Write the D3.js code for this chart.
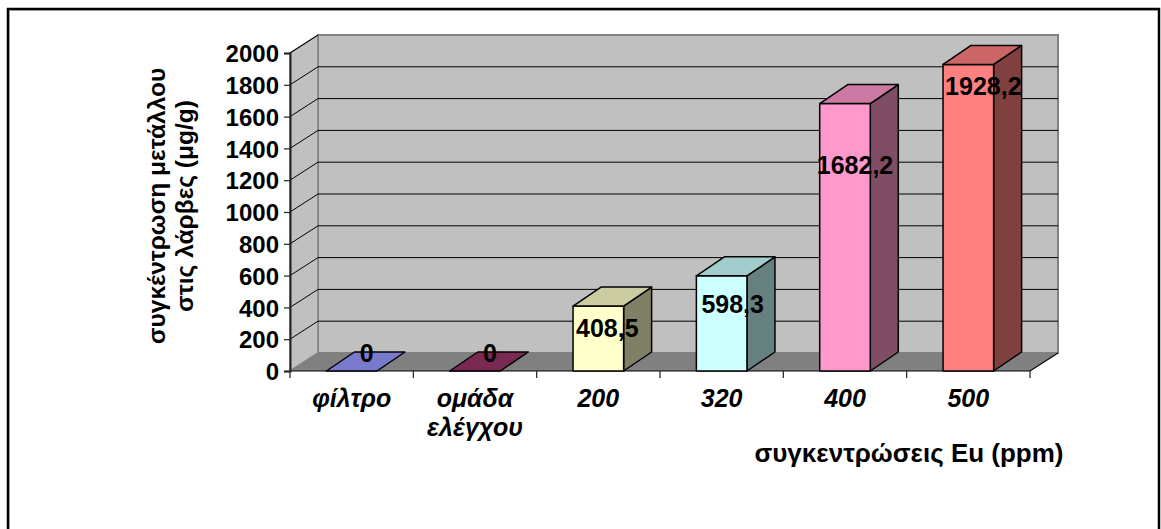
<!DOCTYPE html>
<html>
<head>
<meta charset="utf-8">
<script src="https://cdn.jsdelivr.net/npm/d3@7"></script>
<style>
  html, body { margin: 0; padding: 0; background: #fff; }
  svg { display: block; }
  text { font-family: "Liberation Sans", Arial, sans-serif; font-weight: bold; fill: #000; }
</style>
</head>
<body>
<svg id="chart" width="1161" height="529"></svg>
<script>
// Europium concentrations (categories) and metal accumulated in larvae (μg/g)
const categories = ["φίλτρο", "ομάδα ελέγχου", "200", "320", "400", "500"];
const values = [0, 0, 408.5, 598.3, 1682.2, 1928.2];
const yTicks = [0, 200, 400, 600, 800, 1000, 1200, 1400, 1600, 1800, 2000];
const frontColors = ["#9999ff", "#993366", "#ffffcc", "#ccffff", "#ff99cc", "#ff8080"];
const yTitleLines = ["συγκέντρωση μετάλλου", "στις λάρβες (μg/g)"];
const xTitle = "συγκεντρώσεις Eu (ppm)";

// Layout
const plot = { left: 290, right: 1030, top: 53, bottom: 371 };
const depth = { dx: 28, dy: -18 };      // wall / floor depth
const barDepth = { dx: 28, dy: -19 };   // column depth
// small per-label placement nudges, Excel-style label positioning
const labelNudge = [[15, -18], [15, -18], [9, 22], [11, 28], [10, 61], [15, 22]];

const svg = d3.select("#chart");

// outer chart frame
svg.append("rect")
  .attr("x", 8).attr("y", 9).attr("width", 1151).attr("height", 540)
  .attr("fill", "none").attr("stroke", "#000").attr("stroke-width", 2.5);
svg.append("polyline")
  .attr("points", "9.5,540 9.5,10.5 1157.5,10.5")
  .attr("fill", "none").attr("stroke", "#9a9a9a").attr("stroke-width", 1);

const x = d3.scaleBand().domain(categories).range([plot.left, plot.right]);
const y = d3.scaleLinear().domain([0, 2000]).range([plot.bottom, plot.top]);

const shade = (c, k) => { const r = d3.rgb(c); return d3.rgb(r.r * k, r.g * k, r.b * k).formatHex(); };
const pts = a => a.map(p => p.join(",")).join(" ");

// back wall
svg.append("polygon")
  .attr("points", pts([
    [plot.left + depth.dx, y(2000) + depth.dy],
    [plot.right + depth.dx, y(2000) + depth.dy],
    [plot.right + depth.dx, y(0) + depth.dy],
    [plot.left + depth.dx, y(0) + depth.dy]]))
  .attr("fill", "#c0c0c0").attr("stroke", "#808080").attr("stroke-width", 2);

// side wall
svg.append("polygon")
  .attr("points", pts([
    [plot.left, y(0)], [plot.left, y(2000)],
    [plot.left + depth.dx, y(2000) + depth.dy],
    [plot.left + depth.dx, y(0) + depth.dy]]))
  .attr("fill", "#c0c0c0").attr("stroke", "#808080").attr("stroke-width", 1.5);

// gridlines: slanted on side wall, horizontal on back wall
const grid = svg.append("g");
yTicks.filter(t => t > 0).forEach(t => {
  grid.append("line")
    .attr("x1", plot.left).attr("y1", y(t))
    .attr("x2", plot.left + depth.dx).attr("y2", y(t) + depth.dy)
    .attr("stroke", "#000").attr("stroke-width", 1);
  if (t < 2000) {
    grid.append("line")
      .attr("x1", plot.left + depth.dx).attr("y1", y(t) + depth.dy)
      .attr("x2", plot.right + depth.dx).attr("y2", y(t) + depth.dy)
      .attr("stroke", "#000").attr("stroke-width", 1);
  }
});

// floor
svg.append("polygon")
  .attr("points", pts([
    [plot.left, y(0)], [plot.right, y(0)],
    [plot.right + depth.dx, y(0) + depth.dy],
    [plot.left + depth.dx, y(0) + depth.dy]]))
  .attr("fill", "#808080").attr("stroke", "none");
svg.append("polyline")
  .attr("points", pts([[plot.left, y(0)], [plot.right, y(0)], [plot.right + depth.dx, y(0) + depth.dy]]))
  .attr("fill", "none").attr("stroke", "#000").attr("stroke-width", 1.2);

// value axis
const yAxis = svg.append("g")
  .attr("transform", `translate(${plot.left},0)`)
  .call(d3.axisLeft(y).tickValues(yTicks).tickSize(6).tickPadding(5).tickFormat(d3.format("d")));
yAxis.select(".domain").attr("stroke", "#222").attr("stroke-width", 2);
yAxis.selectAll(".tick line").attr("stroke", "#222").attr("stroke-width", 1.2);
yAxis.selectAll(".tick text")
  .style("font-size", "24px").style("font-family", "'Liberation Sans', Arial, sans-serif")
  .style("font-weight", "bold").attr("fill", "#000").attr("dy", "0.36em");

// category axis: tick marks on band edges
const edges = categories.map(c => x(c)).concat([plot.right]);
svg.append("g").selectAll("line").data(edges).join("line")
  .attr("x1", d => d).attr("x2", d => d)
  .attr("y1", y(0)).attr("y2", y(0) + 7)
  .attr("stroke", "#222").attr("stroke-width", 1.2);

// category labels (wrapped)
const catLines = { "ομάδα ελέγχου": ["ομάδα", "ελέγχου"] };
const catG = svg.append("g");
categories.forEach(c => {
  const lines = catLines[c] || [c];
  const t = catG.append("text")
    .attr("x", x(c) + x.bandwidth() / 2).attr("y", 407)
    .attr("text-anchor", "middle")
    .style("font-size", "25px").style("font-style", "italic");
  lines.forEach((l, i) => t.append("tspan")
    .attr("x", x(c) + x.bandwidth() / 2).attr("dy", i === 0 ? 0 : 29).text(l));
});

// 3D columns
const bw = x.bandwidth() * 0.41;
const barsG = svg.append("g");
categories.forEach((c, i) => {
  const v = values[i];
  const col = frontColors[i];
  const x0 = x(c) + (x.bandwidth() - bw) / 2, x1 = x0 + bw;
  const yt = y(v), yb = y(0);
  const g = barsG.append("g").attr("stroke", "#000").attr("stroke-width", 1.5).attr("stroke-linejoin", "round");
  if (v > 0) {
    // right side face
    g.append("polygon").attr("points", pts([
      [x1, yb], [x1, yt], [x1 + barDepth.dx, yt + barDepth.dy], [x1 + barDepth.dx, yb + barDepth.dy]]))
      .attr("fill", shade(col, 0.5));
    // front face
    g.append("rect").attr("x", x0).attr("y", yt).attr("width", bw).attr("height", yb - yt)
      .attr("fill", col);
  }
  // top face
  g.append("polygon").attr("points", pts([
    [x0, yt], [x1, yt], [x1 + barDepth.dx, yt + barDepth.dy], [x0 + barDepth.dx, yt + barDepth.dy]]))
    .attr("fill", shade(col, 0.8));
});

// value labels
const fmt = v => v === 0 ? "0" : d3.format(".1f")(v).replace(".", ",");
svg.append("g").selectAll("text").data(values).join("text")
  .attr("x", (d, i) => x(categories[i]) + x.bandwidth() / 2 + labelNudge[i][0])
  .attr("y", (d, i) => y(d) + labelNudge[i][1])
  .attr("dy", "0.36em")
  .attr("text-anchor", "middle")
  .style("font-size", "25px")
  .text(fmt);

// axis titles
svg.append("text")
  .attr("x", 909).attr("y", 462).attr("text-anchor", "middle")
  .style("font-size", "26px").text(xTitle);

const yt = svg.append("text")
  .attr("transform", "translate(165,206) rotate(-90)")
  .attr("text-anchor", "middle").style("font-size", "24.5px");
yTitleLines.forEach((l, i) => yt.append("tspan").attr("x", 0).attr("dy", i === 0 ? 0 : 28).text(l));
</script>
</body>
</html>
